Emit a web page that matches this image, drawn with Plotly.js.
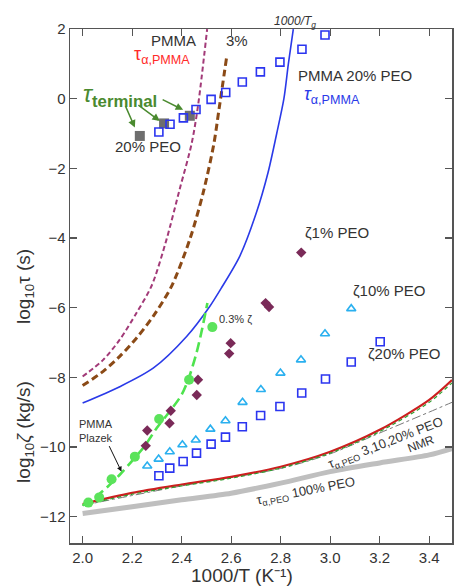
<!DOCTYPE html>
<html><head><meta charset="utf-8">
<script src="https://cdn.plot.ly/plotly-3.0.1.min.js"></script>
<style>body{margin:0;background:#fff}#c{width:454px;height:588px}</style>
</head><body><div id="c"></div>
<script>
// τ_terminal 20% PEO (gray filled squares)
const termX = [2.231, 2.329, 2.433];
const termY = [-1.07, -0.71, -0.49];
// τα,PMMA in PMMA 20% PEO (blue open squares)
const tauPmma20X = [2.308, 2.353, 2.407, 2.458, 2.519, 2.578, 2.645, 2.718, 2.797, 2.886, 2.979];
const tauPmma20Y = [-0.955, -0.734, -0.55, -0.31, -0.02, 0.18, 0.48, 0.77, 1.05, 1.42, 1.83];
// ζ 1% PEO (maroon diamonds)
const zeta1X = [2.261, 2.255, 2.356, 2.351, 2.466, 2.461, 2.598, 2.592, 2.739, 2.753, 2.883];
const zeta1Y = [-9.53, -9.97, -8.96, -9.32, -8.07, -8.51, -7.02, -7.32, -5.87, -5.98, -4.42];
// PMMA Plazek / 0.3% ζ (green circles)
const plazekX = [2.023, 2.067, 2.117, 2.211, 2.309, 2.430, 2.524];
const plazekY = [-11.60, -11.45, -10.93, -10.28, -9.20, -8.07, -6.56];
// ζ 10% PEO (triangles)
const zeta10X = [2.261, 2.307, 2.352, 2.403, 2.457, 2.516, 2.577, 2.646, 2.720, 2.799, 2.882, 2.979, 3.085];
const zeta10Y = [-10.55, -10.35, -10.14, -9.94, -9.80, -9.49, -9.25, -8.72, -8.35, -7.88, -7.50, -6.75, -6.03];
// ζ 20% PEO (blue open squares)
const zeta20X = [2.308, 2.352, 2.406, 2.460, 2.519, 2.577, 2.645, 2.719, 2.797, 2.885, 2.981, 3.085, 3.202];
const zeta20Y = [-10.83, -10.61, -10.42, -10.18, -9.92, -9.72, -9.42, -9.10, -8.84, -8.45, -8.05, -7.56, -6.98];
// curves
const pmmaX = [2.0, 2.083, 2.15, 2.218, 2.28, 2.339, 2.392, 2.44, 2.466, 2.503];
const pmmaY = [-7.98, -7.5, -6.92, -6.15, -5.35, -4.04, -2.6, -1.3, -0.21, 2.0];
const pmma3X = [2.0, 2.083, 2.15, 2.218, 2.285, 2.359, 2.433, 2.487, 2.53, 2.551, 2.581];
const pmma3Y = [-8.24, -7.83, -7.4, -6.87, -6.25, -5.39, -4.04, -2.7, -1.3, -0.3, 1.16];
const pmma20X = [2.0, 2.15, 2.285, 2.42, 2.514, 2.561, 2.635, 2.702, 2.749, 2.784, 2.813, 2.831, 2.851];
const pmma20Y = [-8.74, -8.27, -7.74, -6.83, -5.96, -5.43, -4.52, -3.27, -2.12, -1.0, 0.0, 1.0, 2.0];
const plazekLineX = [2.0, 2.05, 2.1, 2.15, 2.2, 2.25, 2.3, 2.35, 2.4, 2.43, 2.46, 2.48, 2.504];
const plazekLineY = [-11.68, -11.45, -11.15, -10.8, -10.4, -9.98, -9.45, -9.0, -8.5, -8.0, -7.3, -6.7, -5.87];
const peoX = [2.0, 2.2, 2.4, 2.6, 2.8, 3.0, 3.2, 3.4, 3.492];
const peoY = [-11.64, -11.32, -11.08, -10.86, -10.57, -10.14, -9.51, -8.65, -8.08];
const peoGX = [2.0, 2.2, 2.4, 2.6, 2.8, 3.0, 3.2, 3.4, 3.492];
const peoGY = [-11.68, -11.36, -11.12, -10.9, -10.61, -10.18, -9.56, -8.72, -8.16];
const peoDX = [2.0, 2.4, 2.8, 3.0, 3.2, 3.3, 3.4, 3.492];
const peoDY = [-11.68, -11.12, -10.62, -10.2, -9.6, -9.3, -9.0, -8.72];
const peo100X = [2.0, 2.2, 2.4, 2.6, 2.8, 3.0, 3.2, 3.4, 3.492];
const peo100Y = [-11.91, -11.72, -11.52, -11.33, -11.04, -10.71, -10.46, -10.23, -10.05];

const xTicks = [2.0, 2.2, 2.4, 2.6, 2.8, 3.0, 3.2, 3.4];
const yTicks = [-12, -10, -8, -6, -4, -2, 0, 2];

const ln = (x, y, color, width, dash) => ({x, y, mode: 'lines', type: 'scatter', hoverinfo: 'skip',
  line: {color, width, dash, shape: 'spline', smoothing: 0.8}});
const mk = (x, y, symbol, size, color, lw) => ({x, y, mode: 'markers', type: 'scatter',
  marker: {symbol, size, color, line: {color, width: lw || 0}}});

const data = [
  ln(peo100X, peo100Y, '#bfbfbf', 5, 'solid'),
  ln(peoDX, peoDY, '#777777', 1, 'dashdot'),
  ln(peoX, peoY, '#cc1f1f', 2.2, 'solid'),
  ln(peoGX, peoGY, '#2e9e2e', 1.2, '4px,3px'),
  ln(pmmaX, pmmaY, '#a23a78', 2, '5px,3px'),
  ln(pmma3X, pmma3Y, '#8b4a16', 3, '7px,4px'),
  ln(pmma20X, pmma20Y, '#2a3ae8', 1.6, 'solid'),
  ln(plazekLineX, plazekLineY, '#4ee34e', 2.6, '10px,5px'),
  mk(termX, termY, 'square', 10, '#6e6e6e'),
  mk(tauPmma20X, tauPmma20Y, 'square-open', 8, '#2b35f0', 1.6),
  mk(zeta20X, zeta20Y, 'square-open', 8, '#2b35f0', 1.6),
  mk(zeta10X, zeta10Y, 'triangle-up-open', 8, '#2ab0ef', 1.6),
  mk(zeta1X, zeta1Y, 'diamond', 8, '#7a2a58'),
  mk(plazekX, plazekY, 'circle', 10, '#5be35b'),
];

const F = 'Liberation Sans, Arial, sans-serif';
const txt = (x, y, text, size, color, extra) => Object.assign({x, y, xref: 'x', yref: 'y', text,
  xanchor: 'center', yanchor: 'middle', showarrow: false, font: {family: F, size, color}}, extra || {});
const arr = (x, y, ax, ay, color, w) => ({x, y, ax, ay, xref: 'x', yref: 'y', text: '', showarrow: true,
  arrowhead: 2, arrowsize: 1, arrowwidth: w, arrowcolor: color});
const ptxt = (x, y, text, size, extra) => Object.assign({x, y, xref: 'paper', yref: 'paper', text,
  xanchor: 'center', yanchor: 'middle', showarrow: false, font: {family: F, size, color: '#333'}}, extra || {});

const annotations = [
  txt(2.368, 1.66, 'PMMA', 15, '#333'),
  txt(2.321, 1.23, 'τ<sub>α,PMMA</sub>', 18, '#ff2a2a'),
  txt(2.622, 1.68, '3%', 15, '#333'),
  txt(2.150, 0.08, '<i>τ</i><sub><b>terminal</b></sub>', 24, '#4a8a2f'),
  txt(2.265, -1.36, '20% PEO', 15, '#333'),
  {x: 2.858, y: 1, xref: 'x', yref: 'paper', xanchor: 'center', yanchor: 'bottom', yshift: -3,
    text: '<i>1000/T<sub>g</sub></i>', showarrow: false, font: {family: F, size: 12, color: '#333'}},
  txt(3.102, 0.68, 'PMMA 20% PEO', 15, '#333'),
  txt(3.008, 0.08, '<i>τ</i><sub>α,PMMA</sub>', 18, '#2a3ae8'),
  txt(3.026, -3.85, 'ζ1% PEO', 15, '#333'),
  txt(3.236, -5.50, 'ζ10% PEO', 15, '#333'),
  txt(3.300, -7.32, 'ζ20% PEO', 15, '#333'),
  txt(2.541, -6.33, '0.3% ζ', 11, '#333', {xanchor: 'left'}),
  txt(2.056, -9.54, 'PMMA<br>Plazek', 11, '#333'),
  txt(3.225, -9.91, 'τ<sub>α,PEO</sub> 3,10,20% PEO', 13, '#333', {textangle: -21}),
  txt(3.365, -9.91, 'NMR', 12, '#333', {textangle: -21}),
  txt(2.904, -11.29, 'τ<sub>α,PEO</sub> 100% PEO', 13, '#333', {textangle: -11}),
  arr(2.211, -0.83, -10, -23, '#4a8a2f', 1.5),
  arr(2.312, -0.64, -23, -17, '#4a8a2f', 1.5),
  arr(2.406, -0.32, -22, -11, '#4a8a2f', 1.5),
  arr(2.157, -10.71, -13, -27, '#111', 1),
  ptxt(-0.118, 0.50, 'log<sub>10</sub>τ (s)', 19, {textangle: -90}),
  ptxt(-0.118, 0.216, 'log<sub>10</sub><i>ζ</i> (kg/s)', 19, {textangle: -90}),
  ptxt(0.45, -0.064, '1000/T (K⁻¹)', 19),
];

const axis = {showline: true, linecolor: '#555', linewidth: 1.5, mirror: 'ticks', ticks: 'inside',
  ticklen: 7, tickcolor: '#555', tickwidth: 1.2, showgrid: false, zeroline: false,
  tickfont: {family: F, size: 15, color: '#333'}};

const layout = {
  width: 454, height: 588, showlegend: false,
  paper_bgcolor: '#fff', plot_bgcolor: '#fff',
  margin: {l: 70, r: 2, t: 29, b: 45},
  xaxis: Object.assign({}, axis, {range: [1.949, 3.492], tickvals: xTicks, ticktext: xTicks.map(v => v.toFixed(1))}),
  yaxis: Object.assign({}, axis, {range: [-12.76, 2.002], tickvals: yTicks}),
  annotations,
};
Plotly.newPlot('c', data, layout, {staticPlot: true});
</script></body></html>
